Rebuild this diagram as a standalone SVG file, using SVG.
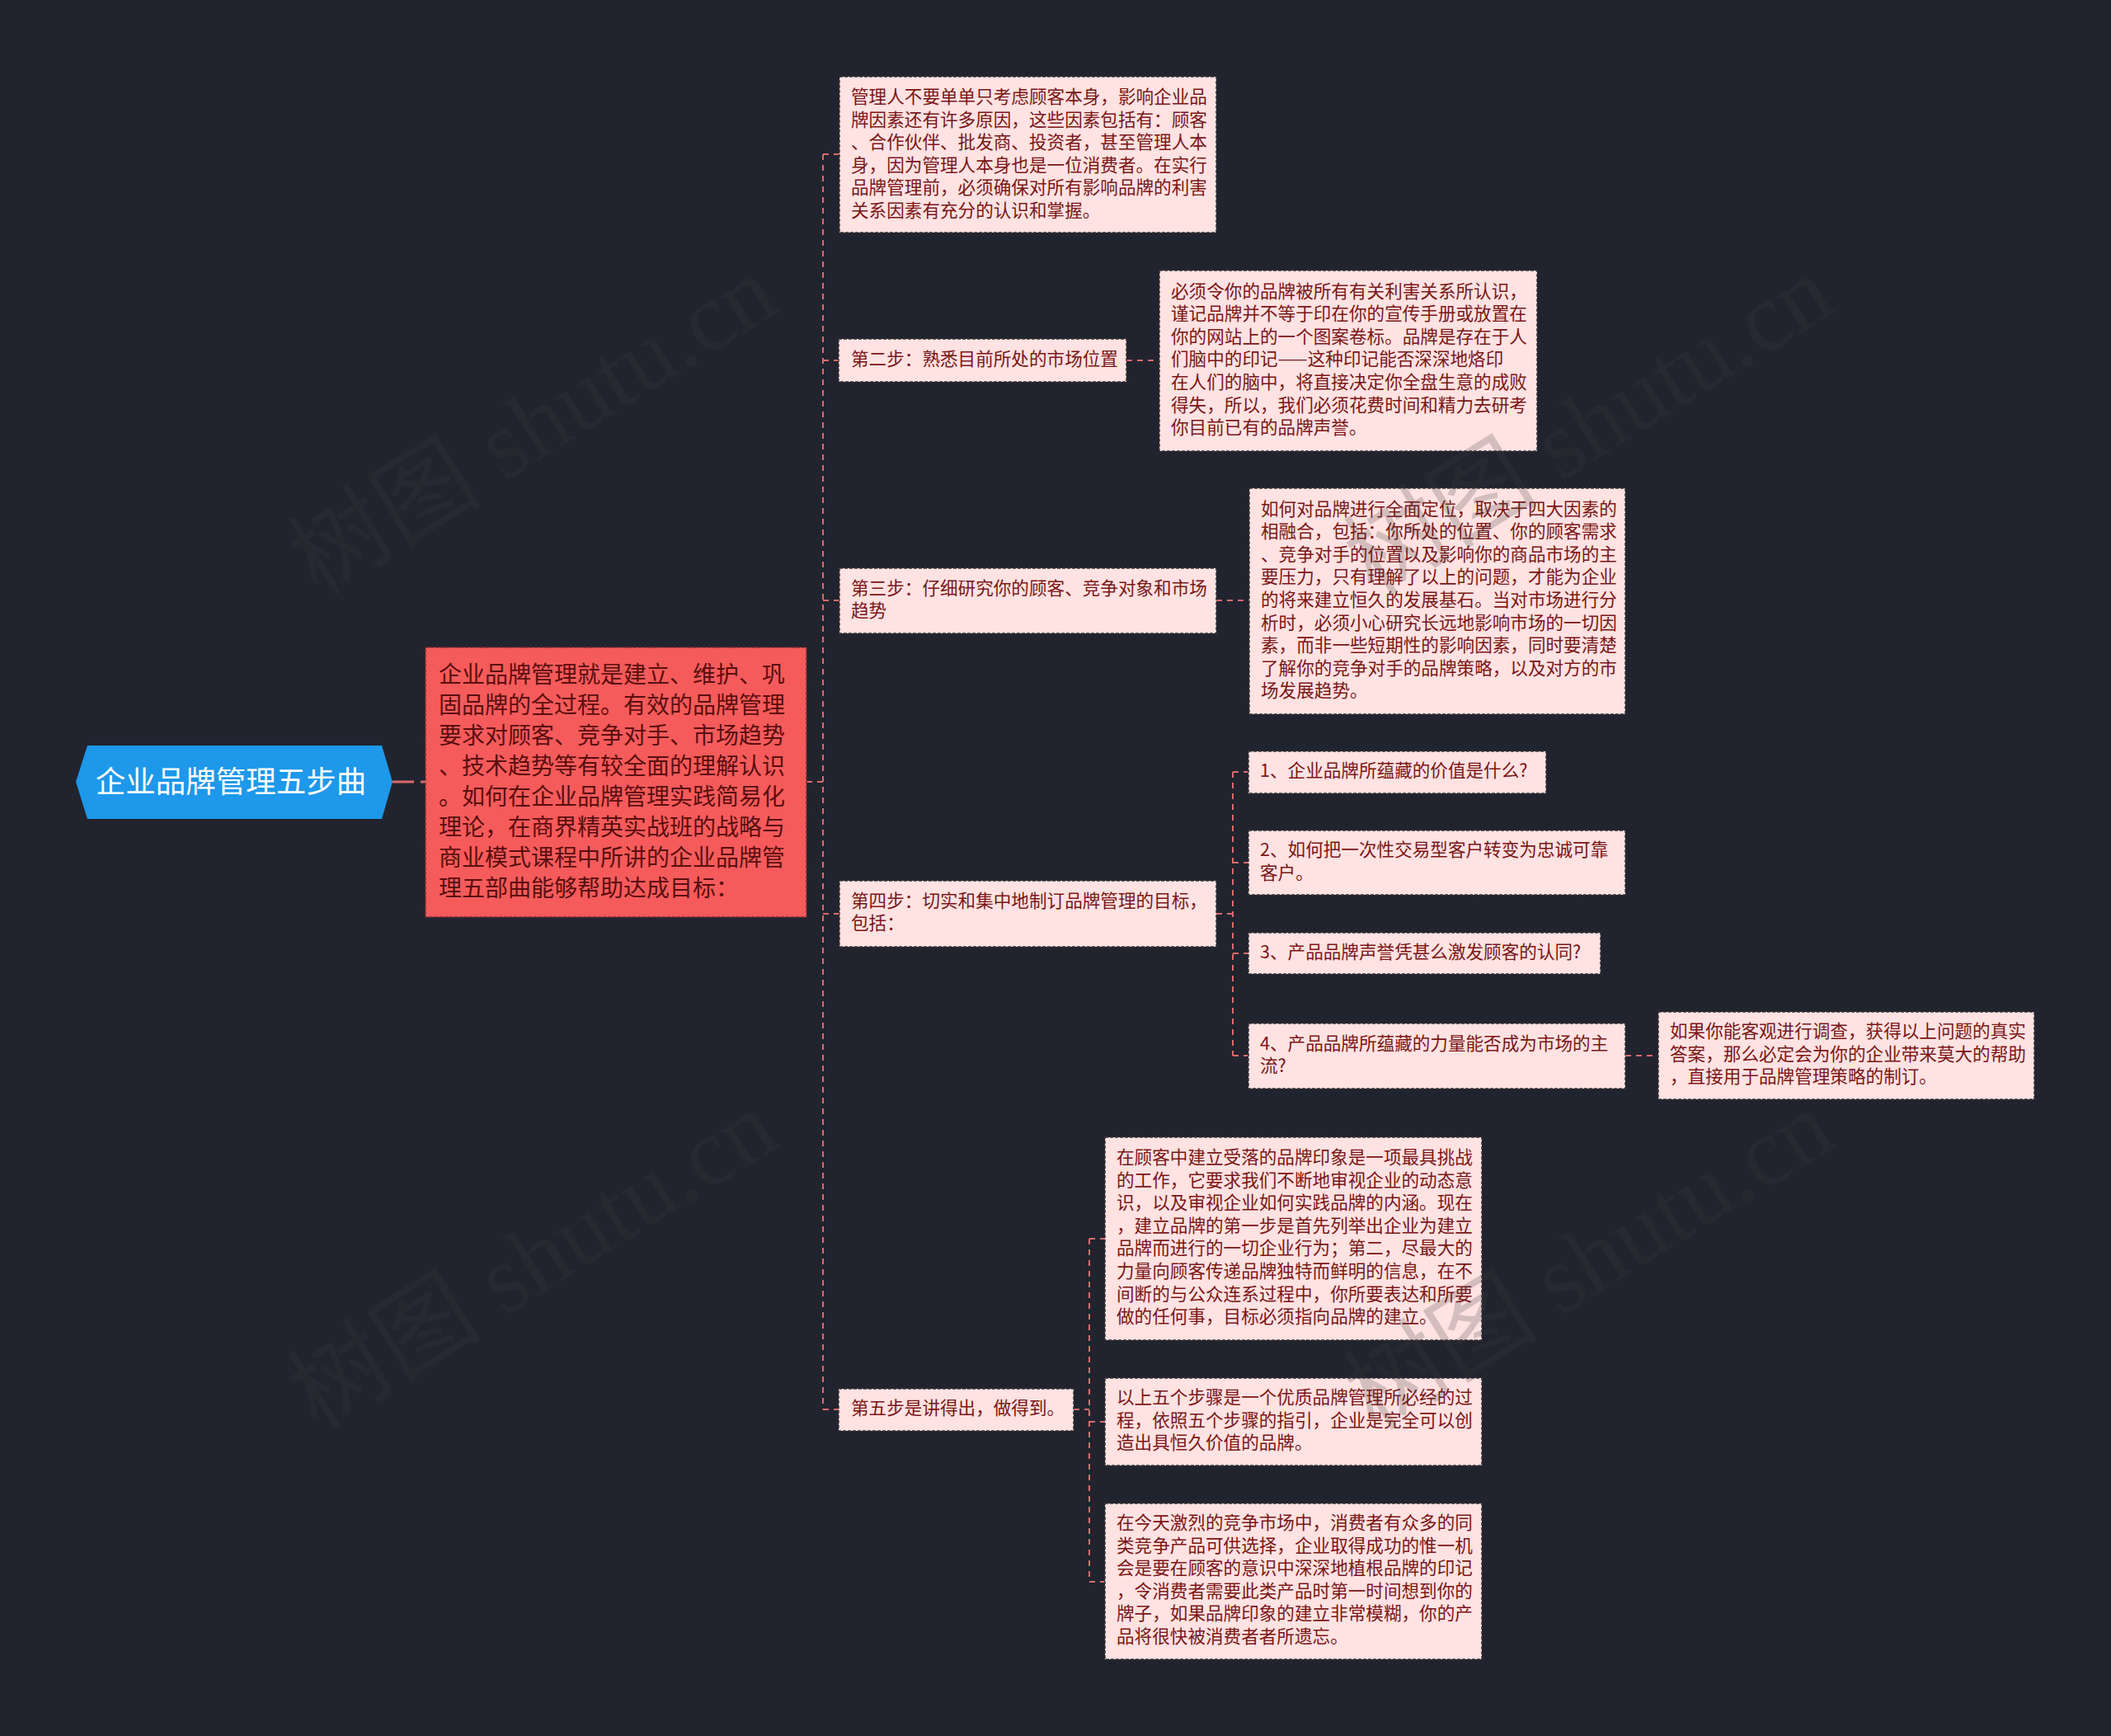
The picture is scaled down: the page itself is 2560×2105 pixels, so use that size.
<svg xmlns="http://www.w3.org/2000/svg" width="2560" height="2105" viewBox="0 0 2560 2105">
<style>
.bg{fill:#21242f}
.cn{stroke:#dc6a6c;stroke-width:2;stroke-dasharray:7 6;fill:none}
.leaf rect{fill:#ffe2e2;stroke:#3a3335;stroke-width:1.5;stroke-dasharray:4 2}
.leaf text{font-family:"Noto Sans CJK SC","Noto Sans",sans-serif;font-size:21.6px;fill:#7a1616}
.main rect{fill:#f55b5b;stroke:#7a2b2b;stroke-width:1.5;stroke-dasharray:4 2}
.main text{font-family:"Noto Sans CJK SC","Noto Sans",sans-serif;font-size:28px;fill:#5a0e0e}
.root text{font-family:"Noto Sans CJK SC","Noto Sans",sans-serif;font-size:36.5px;fill:#ffffff}
.wm text{font-family:"Liberation Serif","Noto Sans CJK SC",serif;font-size:118px;fill:#3c3c3c;opacity:0.22}
</style>
<rect class="bg" x="0" y="0" width="2560" height="2105"/>
<g id="connectors">
<line class="cn" x1="476" y1="948" x2="516" y2="948" style="stroke-width:3;stroke-dasharray:26 8"/>
<line class="cn" x1="978" y1="948" x2="998" y2="948"/>
<line class="cn" x1="998" y1="187" x2="998" y2="1709"/>
<line class="cn" x1="998" y1="187" x2="1018" y2="187"/>
<line class="cn" x1="998" y1="437" x2="1017" y2="437"/>
<line class="cn" x1="998" y1="728" x2="1018" y2="728"/>
<line class="cn" x1="998" y1="1108" x2="1018" y2="1108"/>
<line class="cn" x1="998" y1="1709" x2="1017" y2="1709"/>
<line class="cn" x1="1366" y1="437" x2="1406" y2="437"/>
<line class="cn" x1="1475" y1="728" x2="1515" y2="728"/>
<line class="cn" x1="1475" y1="1108" x2="1495" y2="1108"/>
<line class="cn" x1="1495" y1="936" x2="1495" y2="1280"/>
<line class="cn" x1="1495" y1="936" x2="1514" y2="936"/>
<line class="cn" x1="1495" y1="1046" x2="1514" y2="1046"/>
<line class="cn" x1="1495" y1="1156" x2="1514" y2="1156"/>
<line class="cn" x1="1495" y1="1280" x2="1514" y2="1280"/>
<line class="cn" x1="1971" y1="1280" x2="2011" y2="1280"/>
<line class="cn" x1="1302" y1="1709" x2="1321" y2="1709"/>
<line class="cn" x1="1321" y1="1502" x2="1321" y2="1918"/>
<line class="cn" x1="1321" y1="1502" x2="1340" y2="1502"/>
<line class="cn" x1="1321" y1="1724" x2="1340" y2="1724"/>
<line class="cn" x1="1321" y1="1918" x2="1340" y2="1918"/>
</g>
<g id="root" class="root">
<polygon points="92,948 106,904 463,904 476,948 463,993 106,993" fill="#1d98ea"/>
<text x="280" y="961" text-anchor="middle">企业品牌管理五步曲</text>
</g>
<g id="main" class="main">
<rect x="516" y="785" width="462" height="327"/>
<text x="532" y="828"><tspan x="532">企业品牌管理就是建立、维护、巩</tspan><tspan x="532" dy="37">固品牌的全过程。有效的品牌管理</tspan><tspan x="532" dy="37">要求对顾客、竞争对手、市场趋势</tspan><tspan x="532" dy="37">、技术趋势等有较全面的理解认识</tspan><tspan x="532" dy="37">。如何在企业品牌管理实践简易化</tspan><tspan x="532" dy="37">理论，在商界精英实战班的战略与</tspan><tspan x="532" dy="37">商业模式课程中所讲的企业品牌管</tspan><tspan x="532" dy="37">理五部曲能够帮助达成目标：</tspan></text>
</g>
<g id="step1" class="leaf">
<rect x="1018" y="93" width="457" height="189"/>
<text x="1032" y="125"><tspan x="1032">管理人不要单单只考虑顾客本身，影响企业品</tspan><tspan x="1032" dy="27.6">牌因素还有许多原因，这些因素包括有：顾客</tspan><tspan x="1032" dy="27.6">、合作伙伴、批发商、投资者，甚至管理人本</tspan><tspan x="1032" dy="27.6">身，因为管理人本身也是一位消费者。在实行</tspan><tspan x="1032" dy="27.6">品牌管理前，必须确保对所有影响品牌的利害</tspan><tspan x="1032" dy="27.6">关系因素有充分的认识和掌握。</tspan></text>
</g>
<g id="step2" class="leaf">
<rect x="1017" y="411" width="349" height="52"/>
<text x="1032" y="443"><tspan x="1032">第二步：熟悉目前所处的市场位置</tspan></text>
</g>
<g id="step2-detail" class="leaf">
<rect x="1406" y="328" width="458" height="219"/>
<text x="1420" y="360.5"><tspan x="1420">必须令你的品牌被所有有关利害关系所认识，</tspan><tspan x="1420" dy="27.6">谨记品牌并不等于印在你的宣传手册或放置在</tspan><tspan x="1420" dy="27.6">你的网站上的一个图案卷标。品牌是存在于人</tspan><tspan x="1420" dy="27.6">们脑中的印记——这种印记能否深深地烙印</tspan><tspan x="1420" dy="27.6">在人们的脑中，将直接决定你全盘生意的成败</tspan><tspan x="1420" dy="27.6">得失，所以，我们必须花费时间和精力去研考</tspan><tspan x="1420" dy="27.6">你目前已有的品牌声誉。</tspan></text>
</g>
<g id="step3" class="leaf">
<rect x="1018" y="689" width="457" height="79"/>
<text x="1032" y="720.5"><tspan x="1032">第三步：仔细研究你的顾客、竞争对象和市场</tspan><tspan x="1032" dy="27.6">趋势</tspan></text>
</g>
<g id="step3-detail" class="leaf">
<rect x="1515" y="592" width="456" height="274"/>
<text x="1529" y="624.5"><tspan x="1529">如何对品牌进行全面定位，取决于四大因素的</tspan><tspan x="1529" dy="27.6">相融合，包括：你所处的位置、你的顾客需求</tspan><tspan x="1529" dy="27.6">、竞争对手的位置以及影响你的商品市场的主</tspan><tspan x="1529" dy="27.6">要压力，只有理解了以上的问题，才能为企业</tspan><tspan x="1529" dy="27.6">的将来建立恒久的发展基石。当对市场进行分</tspan><tspan x="1529" dy="27.6">析时，必须小心研究长远地影响市场的一切因</tspan><tspan x="1529" dy="27.6">素，而非一些短期性的影响因素，同时要清楚</tspan><tspan x="1529" dy="27.6">了解你的竞争对手的品牌策略，以及对方的市</tspan><tspan x="1529" dy="27.6">场发展趋势。</tspan></text>
</g>
<g id="step4" class="leaf">
<rect x="1018" y="1068" width="457" height="80"/>
<text x="1032" y="1099.5"><tspan x="1032">第四步：切实和集中地制订品牌管理的目标，</tspan><tspan x="1032" dy="27.6">包括：</tspan></text>
</g>
<g id="goal1" class="leaf">
<rect x="1514" y="911" width="361" height="51"/>
<text x="1528" y="942">1、企业品牌所蕴藏的价值是什么?</text>
</g>
<g id="goal2" class="leaf">
<rect x="1514" y="1007" width="457" height="78"/>
<text x="1528" y="1038"><tspan x="1528">2、如何把一次性交易型客户转变为忠诚可靠</tspan><tspan x="1528" dy="27.6">客户。</tspan></text>
</g>
<g id="goal3" class="leaf">
<rect x="1514" y="1131" width="427" height="50"/>
<text x="1528" y="1161.5">3、产品品牌声誉凭甚么激发顾客的认同?</text>
</g>
<g id="goal4" class="leaf">
<rect x="1514" y="1241" width="457" height="79"/>
<text x="1528" y="1272.5"><tspan x="1528">4、产品品牌所蕴藏的力量能否成为市场的主</tspan><tspan x="1528" dy="27.6">流?</tspan></text>
</g>
<g id="goal4-detail" class="leaf">
<rect x="2011" y="1227" width="456" height="106"/>
<text x="2025" y="1258"><tspan x="2025">如果你能客观进行调查，获得以上问题的真实</tspan><tspan x="2025" dy="27.6">答案，那么必定会为你的企业带来莫大的帮助</tspan><tspan x="2025" dy="27.6">，直接用于品牌管理策略的制订。</tspan></text>
</g>
<g id="step5" class="leaf">
<rect x="1017" y="1684" width="285" height="51"/>
<text x="1032" y="1715">第五步是讲得出，做得到。</text>
</g>
<g id="step5-a" class="leaf">
<rect x="1340" y="1379" width="457" height="246"/>
<text x="1354" y="1411"><tspan x="1354">在顾客中建立受落的品牌印象是一项最具挑战</tspan><tspan x="1354" dy="27.6">的工作，它要求我们不断地审视企业的动态意</tspan><tspan x="1354" dy="27.6">识，以及审视企业如何实践品牌的内涵。现在</tspan><tspan x="1354" dy="27.6">，建立品牌的第一步是首先列举出企业为建立</tspan><tspan x="1354" dy="27.6">品牌而进行的一切企业行为；第二，尽最大的</tspan><tspan x="1354" dy="27.6">力量向顾客传递品牌独特而鲜明的信息，在不</tspan><tspan x="1354" dy="27.6">间断的与公众连系过程中，你所要表达和所要</tspan><tspan x="1354" dy="27.6">做的任何事，目标必须指向品牌的建立。</tspan></text>
</g>
<g id="step5-b" class="leaf">
<rect x="1340" y="1671" width="457" height="106"/>
<text x="1354" y="1702"><tspan x="1354">以上五个步骤是一个优质品牌管理所必经的过</tspan><tspan x="1354" dy="27.6">程，依照五个步骤的指引，企业是完全可以创</tspan><tspan x="1354" dy="27.6">造出具恒久价值的品牌。</tspan></text>
</g>
<g id="step5-c" class="leaf">
<rect x="1340" y="1823" width="457" height="189"/>
<text x="1354" y="1854"><tspan x="1354">在今天激烈的竞争市场中，消费者有众多的同</tspan><tspan x="1354" dy="27.6">类竞争产品可供选择，企业取得成功的惟一机</tspan><tspan x="1354" dy="27.6">会是要在顾客的意识中深深地植根品牌的印记</tspan><tspan x="1354" dy="27.6">，令消费者需要此类产品时第一时间想到你的</tspan><tspan x="1354" dy="27.6">牌子，如果品牌印象的建立非常模糊，你的产</tspan><tspan x="1354" dy="27.6">品将很快被消费者者所遗忘。</tspan></text>
</g>
<g id="watermarks" class="wm">
<text x="646" y="556" text-anchor="middle" transform="rotate(-31.7 646 516)">树图 shutu.cn</text>
<text x="1927" y="556" text-anchor="middle" transform="rotate(-31.7 1927 516)">树图 shutu.cn</text>
<text x="646" y="1568" text-anchor="middle" transform="rotate(-31.7 646 1528)">树图 shutu.cn</text>
<text x="1927" y="1568" text-anchor="middle" transform="rotate(-31.7 1927 1528)">树图 shutu.cn</text>
</g>
</svg>
